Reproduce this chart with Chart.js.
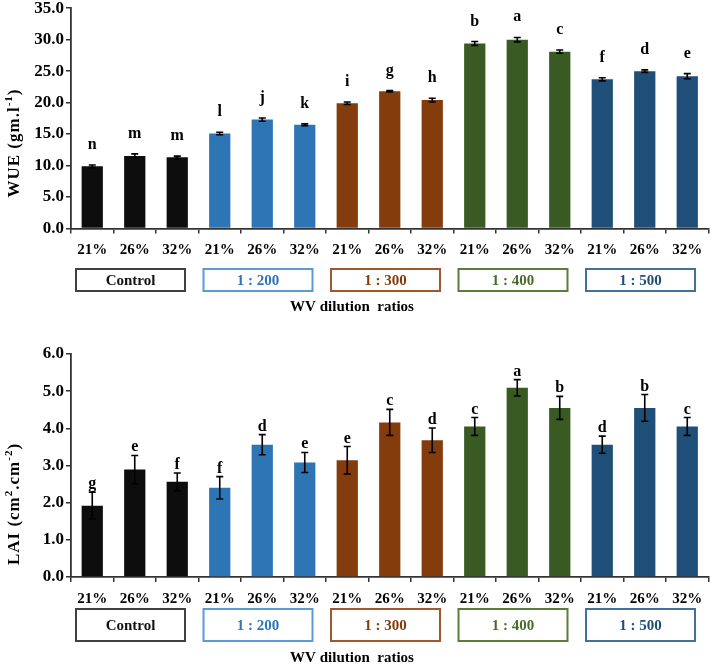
<!DOCTYPE html>
<html>
<head>
<meta charset="utf-8">
<script src="https://cdn.jsdelivr.net/npm/chart.js@4.4.1/dist/chart.umd.min.js"></script>
<style>
  body { margin: 0; background: #fff; width: 714px; height: 664px; position: relative; overflow: hidden; }
  .wrap { position: absolute; left: 0; width: 714px; height: 334px; }
  #topWrap { top: -4px; }
  #bottomWrap { top: 330px; }
</style>
</head>
<body>
<div class="wrap" id="topWrap"><canvas id="wueChart" width="714" height="334"></canvas></div>
<div class="wrap" id="bottomWrap"><canvas id="laiChart" width="714" height="334"></canvas></div>
<script>
const categories = ['21%', '26%', '32%', '21%', '26%', '32%', '21%', '26%', '32%', '21%', '26%', '32%', '21%', '26%', '32%'];
const groupNames = ['Control', '1 : 200', '1 : 300', '1 : 400', '1 : 500'];
const groupBarColors = ['#0d0d0d', '#2e75b6', '#843c0c', '#3a5a24', '#1f4e79'];
const groupBoxColors = ['#404040', '#5b9bd5', '#a0582e', '#5a7d3a', '#41719c'];
const groupTextColors = ['#111111', '#2e75b6', '#843c0c', '#4a6b2c', '#1f4e79'];
const xTitle = 'WV dilution  ratios';

const wueValues = [9.9, 11.5, 11.3, 15.1, 17.3, 16.5, 19.9, 21.8, 20.4, 29.4, 30.0, 28.1, 23.7, 25.0, 24.2];
const wueErrors = [0.2, 0.35, 0.2, 0.2, 0.25, 0.15, 0.2, 0.1, 0.3, 0.3, 0.35, 0.25, 0.25, 0.2, 0.4];
const wueLetters = ['n', 'm', 'm', 'l', 'j', 'k', 'i', 'g', 'h', 'b', 'a', 'c', 'f', 'd', 'e'];

const laiValues = [1.92, 2.89, 2.56, 2.40, 3.56, 3.08, 3.14, 4.16, 3.68, 4.05, 5.09, 4.55, 3.56, 4.55, 4.05];
const laiErrors = [0.36, 0.38, 0.24, 0.30, 0.27, 0.27, 0.37, 0.35, 0.33, 0.24, 0.22, 0.31, 0.23, 0.36, 0.24];
const laiLetters = ['g', 'e', 'f', 'f', 'd', 'e', 'e', 'c', 'd', 'c', 'a', 'b', 'd', 'b', 'c'];

const SERIF = "'Liberation Serif', 'Times New Roman', serif";
const barColors = categories.map((c, i) => groupBarColors[Math.floor(i / 3)]);

// error bars + significance letters over each bar
const errorBarPlugin = {
  id: 'errorBars',
  afterDatasetsDraw(chart, args, opts) {
    const ctx = chart.ctx;
    const y = chart.scales.y;
    const meta = chart.getDatasetMeta(0);
    const vals = chart.data.datasets[0].data;
    ctx.save();
    ctx.strokeStyle = '#000';
    ctx.lineWidth = 1.6;
    meta.data.forEach((bar, i) => {
      const top = y.getPixelForValue(vals[i] + opts.errors[i]);
      const bot = y.getPixelForValue(vals[i] - opts.errors[i]);
      ctx.beginPath();
      ctx.moveTo(bar.x, top); ctx.lineTo(bar.x, bot);
      ctx.moveTo(bar.x - 3.5, top); ctx.lineTo(bar.x + 3.5, top);
      ctx.moveTo(bar.x - 3.5, bot); ctx.lineTo(bar.x + 3.5, bot);
      ctx.stroke();
      ctx.fillStyle = '#000';
      ctx.font = 'bold 16px ' + SERIF;
      ctx.textAlign = 'center';
      ctx.textBaseline = 'alphabetic';
      ctx.fillText(opts.letters[i], bar.x, top - opts.letterGap);
    });
    ctx.restore();
  }
};

// group boxes under the axis, axis titles
const groupPlugin = {
  id: 'groups',
  afterDraw(chart, args, opts) {
    const ctx = chart.ctx;
    const x = chart.scales.x;
    const axisY = chart.chartArea.bottom;
    const catW = (chart.chartArea.right - chart.chartArea.left) / categories.length;
    ctx.save();
    groupNames.forEach((name, g) => {
      const left = x.getPixelForValue(g * 3) - catW / 2 + 5;
      const w = catW * 3 - 18.5;
      const top = axisY + opts.boxTop;
      ctx.strokeStyle = groupBoxColors[g];
      ctx.lineWidth = 2;
      ctx.strokeRect(left, top, w, opts.boxH);
      ctx.fillStyle = groupTextColors[g];
      ctx.font = 'bold 15px ' + SERIF;
      ctx.textAlign = 'center';
      ctx.textBaseline = 'middle';
      ctx.fillText(name, left + w / 2, top + opts.boxH / 2 + 1);
    });
    ctx.fillStyle = '#000';
    ctx.font = 'bold 15px ' + SERIF;
    ctx.textAlign = 'center';
    ctx.textBaseline = 'middle';
    ctx.fillText(xTitle, 352, axisY + opts.titleGap);

    // rotated y title with superscripts
    ctx.translate(15, opts.yTitleY);
    ctx.rotate(-Math.PI / 2);
    ctx.textAlign = 'left';
    ctx.letterSpacing = '1px';
    const fontFor = p => (p.sup ? 'bold 11px ' : 'bold 17px ') + SERIF;
    let total = 0;
    opts.yTitle.forEach(p => { ctx.font = fontFor(p); total += ctx.measureText(p.text).width; });
    let px = -total / 2;
    opts.yTitle.forEach(p => {
      ctx.font = fontFor(p);
      ctx.fillText(p.text, px, p.sup ? -6 : 0);
      px += ctx.measureText(p.text).width;
    });
    ctx.restore();
  }
};

function makeChart(id, values, errors, letters, yMax, yStep, cfg) {
  return new Chart(document.getElementById(id), {
    type: 'bar',
    data: {
      labels: categories,
      datasets: [{
        data: values,
        backgroundColor: barColors,
        borderWidth: 0,
        categoryPercentage: 1,
        barPercentage: 0.5
      }]
    },
    options: {
      responsive: false,
      animation: false,
      layout: { padding: { top: cfg.padTop, right: 5.5, left: 0, bottom: 0 } },
      plugins: {
        legend: { display: false },
        tooltip: { enabled: false },
        errorBars: { errors: errors, letters: letters, letterGap: cfg.letterGap },
        groups: { boxTop: cfg.boxTop, boxH: cfg.boxH, titleGap: cfg.titleGap, yTitle: cfg.yTitle, yTitleY: cfg.yTitleY }
      },
      scales: {
        x: {
          afterFit: s => { s.height = cfg.xHeight; },
          grid: { offset: true, drawOnChartArea: false, tickLength: 5, color: '#333', lineWidth: 1.5 },
          border: { color: '#333', width: 1.8 },
          ticks: { color: '#000', font: { family: SERIF, size: 15, weight: 'bold' }, padding: 8, maxRotation: 0, autoSkip: false }
        },
        y: {
          min: 0,
          max: yMax,
          afterFit: s => { s.width = 71; },
          grid: { drawOnChartArea: false, tickLength: 5, color: '#333', lineWidth: 1.5 },
          border: { color: '#333', width: 1.8 },
          ticks: {
            stepSize: yStep,
            color: '#000',
            padding: 2,
            font: { family: SERIF, size: 17, weight: 'bold' },
            callback: v => v.toFixed(1)
          }
        }
      }
    },
    plugins: [errorBarPlugin, groupPlugin]
  });
}

makeChart('wueChart', wueValues, wueErrors, wueLetters, 35, 5, {
  padTop: 9, xHeight: 101.5, letterGap: 16,
  boxTop: 40.5, boxH: 22, titleGap: 78.5, yTitleY: 147,
  yTitle: [{ text: 'WUE (gm.l' }, { text: '-1', sup: true }, { text: ')' }]
});

makeChart('laiChart', laiValues, laiErrors, laiLetters, 6, 1, {
  padTop: 24, xHeight: 87, letterGap: 4,
  boxTop: 32, boxH: 32, titleGap: 81, yTitleY: 174,
  yTitle: [{ text: 'LAI (cm' }, { text: '2', sup: true }, { text: '.cm' }, { text: '-2', sup: true }, { text: ')' }]
});
</script>
</body>
</html>
